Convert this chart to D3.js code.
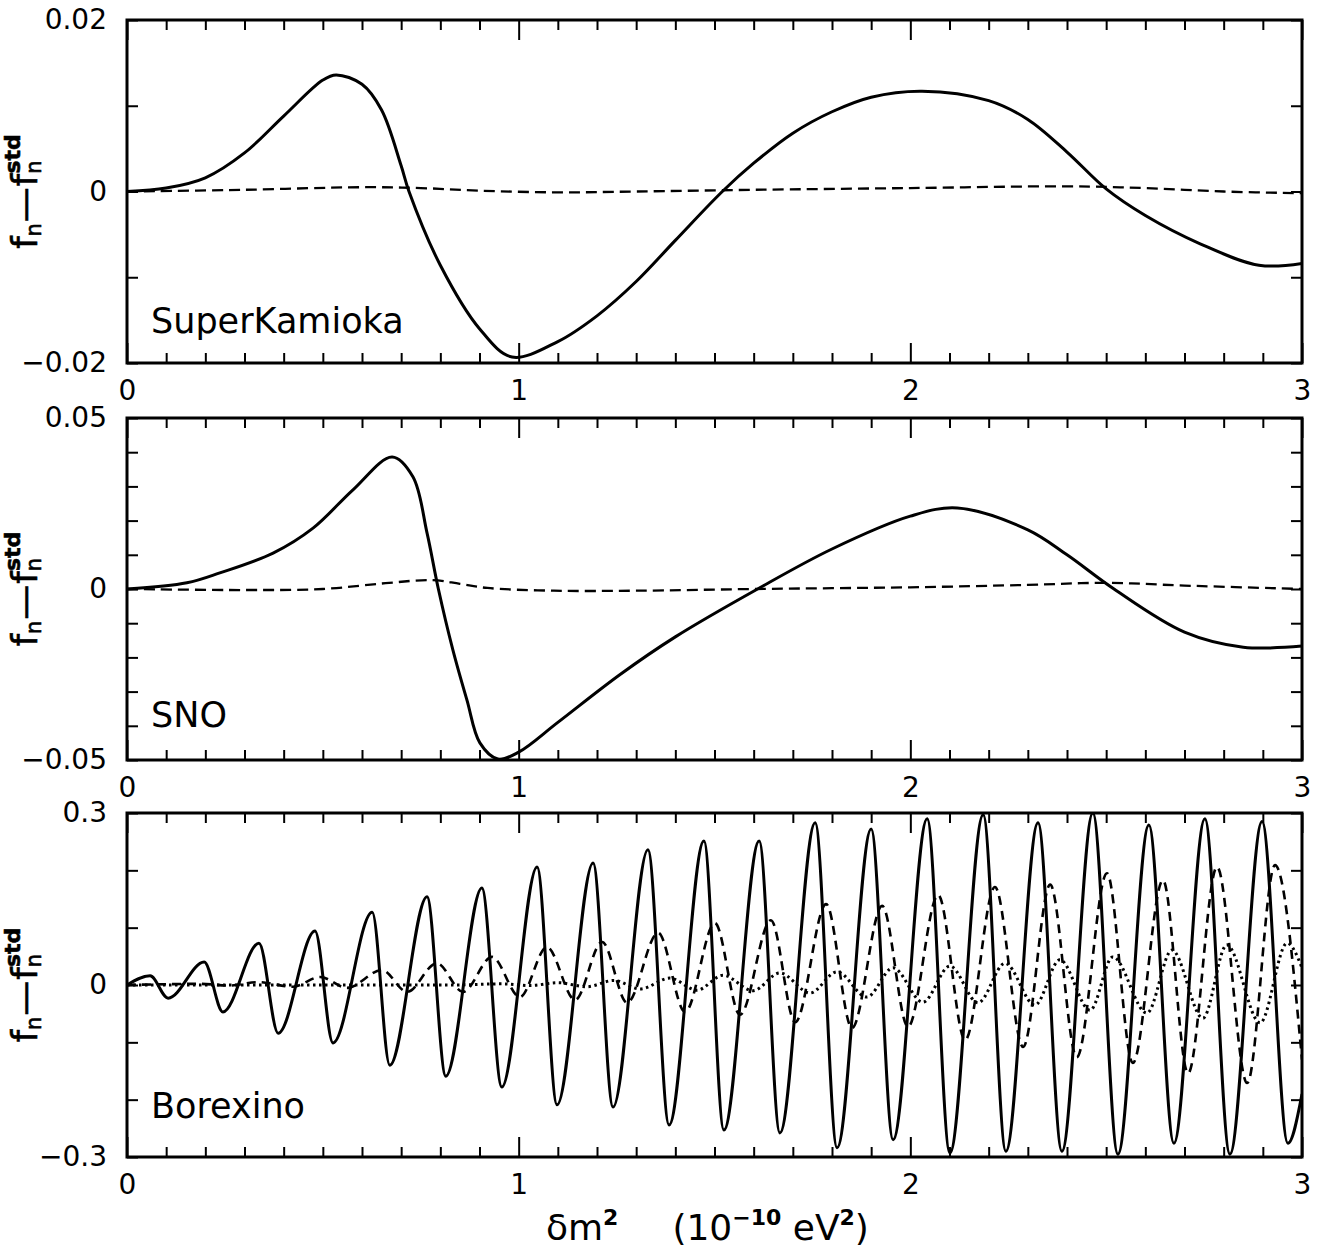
<!DOCTYPE html>
<html><head><meta charset="utf-8">
<script src="https://cdn.jsdelivr.net/npm/d3@7/dist/d3.min.js"></script>
<style>body{margin:0;background:#fff}svg{display:block}</style>
</head><body><svg id="c" width="1322" height="1250"></svg>
<script>
// ---------- data ----------
const xLabelValues = [0, 1, 2, 3];
const panelNames = ["SuperKamioka", "SNO", "Borexino"];
const yDomains = [[-0.02, 0.02], [-0.05, 0.05], [-0.3, 0.3]];
const yLabelValues = [[-0.02, 0, 0.02], [-0.05, 0, 0.05], [-0.3, 0, 0.3]];
const yTickSteps = [0.01, 0.01, 0.1];

// SuperKamioka
const skSolid = [[0,0],[0.1,0.0004],[0.2,0.0016],[0.3,0.0045],[0.4,0.0088],[0.5,0.0130],[0.534,0.0136],
  [0.6,0.0125],[0.65,0.0095],[0.7,0.0030],[0.72,0.0],[0.8,-0.0086],[0.9,-0.0160],[0.983,-0.0193],
  [1.1,-0.0175],[1.2,-0.0145],[1.3,-0.0105],[1.4,-0.0057],[1.52,0.0],[1.6,0.0033],[1.7,0.0068],
  [1.8,0.0093],[1.9,0.0110],[2.03,0.0117],[2.2,0.0106],[2.3,0.0084],[2.4,0.0046],[2.5,0.0003],
  [2.6,-0.0028],[2.74,-0.0061],[2.89,-0.0086],[3.0,-0.0084]];
const skDashed = [[0,0],[0.3,0.0002],[0.6,0.0005],[0.75,0.0004],[0.9,0.0001],[1.1,-0.0001],[1.3,0.0],
  [1.6,0.0002],[2.0,0.0004],[2.4,0.0006],[2.6,0.0004],[2.8,0.0],[3.0,-0.0002]];

// SNO
const snoSolid = [[0,0],[0.153,0.0018],[0.237,0.0047],[0.373,0.0105],[0.475,0.0178],[0.577,0.029],
  [0.677,0.0386],[0.73,0.0328],[0.766,0.0164],[0.795,0],[0.832,-0.0178],[0.868,-0.0325],[0.901,-0.045],
  [0.947,-0.0497],[1.0,-0.0477],[1.1,-0.039],[1.259,-0.025],[1.4,-0.014],[1.61,0],[1.8,0.0117],
  [2.0,0.0213],[2.12,0.0237],[2.3,0.0173],[2.4,0.010],[2.52,0],[2.7,-0.0126],[2.85,-0.017],[3.0,-0.0167]];
const snoDashed = [[0,0],[0.3,-0.0003],[0.5,0.0],[0.66,0.0017],[0.78,0.0026],[0.85,0.0015],[0.92,0.0003],
  [1.09,-0.0005],[1.3,-0.0005],[1.6,0.0],[2.0,0.0005],[2.3,0.0012],[2.5,0.0018],[2.7,0.001],[3.0,0.0]];

// Borexino solid: extrema
const bxSolidStart = [[0,0]];
const bxSolidPeakX = [0.059,0.197,0.337,0.480,0.626,0.766,0.906,1.047,1.190,1.330,1.473,1.614,1.757,1.900,2.043,2.186,2.326,2.466,2.609,2.752,2.898];
const bxSolidPeakY = [0.016,0.040,0.073,0.094,0.127,0.154,0.169,0.206,0.213,0.236,0.251,0.251,0.283,0.272,0.290,0.297,0.283,0.300,0.279,0.290,0.285];
const bxSolidTroughX = [0.105,0.245,0.386,0.526,0.671,0.814,0.957,1.098,1.241,1.384,1.524,1.667,1.813,1.956,2.101,2.244,2.387,2.530,2.673,2.816,2.964];
const bxSolidTroughY = [-0.023,-0.047,-0.084,-0.101,-0.140,-0.159,-0.178,-0.209,-0.213,-0.244,-0.253,-0.258,-0.284,-0.270,-0.293,-0.290,-0.290,-0.295,-0.276,-0.295,-0.276];
const bxSolidEnd = [[3.0,-0.19]];

// Borexino dashed
const bxDashedStart = [[0,0],[0.19,0.002],[0.26,-0.001]];
const bxDashedPeakX = [0.334,0.493,0.651,0.791,0.932,1.072,1.213,1.356,1.501,1.644,1.785,1.928,2.071,2.216,2.357,2.502,2.645,2.783,2.931];
const bxDashedPeakY = [0.005,0.014,0.026,0.038,0.049,0.066,0.075,0.091,0.108,0.113,0.141,0.138,0.157,0.171,0.175,0.195,0.183,0.206,0.209];
const bxDashedTroughX = [0.424,0.562,0.715,0.858,1.003,1.144,1.277,1.425,1.565,1.706,1.851,1.994,2.140,2.288,2.425,2.568,2.709,2.860];
const bxDashedTroughY = [-0.003,-0.005,-0.012,-0.012,-0.021,-0.026,-0.031,-0.047,-0.052,-0.065,-0.075,-0.073,-0.096,-0.108,-0.126,-0.136,-0.154,-0.171];
const bxDashedEnd = [[3.0,-0.13]];

// Borexino dotted
const bxDottedStart = [[0,0],[0.6,0.0],[0.83,0.0]];
const bxDottedPeakX = [0.96,1.10,1.243,1.386,1.522,1.667,1.813,1.956,2.101,2.242,2.382,2.517,2.668,2.808,2.962];
const bxDottedPeakY = [0.002,0.004,0.008,0.012,0.017,0.021,0.023,0.030,0.033,0.038,0.044,0.049,0.061,0.070,0.073];
const bxDottedTroughX = [1.03,1.174,1.310,1.455,1.598,1.744,1.889,2.032,2.173,2.318,2.459,2.604,2.747,2.893];
const bxDottedTroughY = [-0.001,-0.003,-0.007,-0.009,-0.010,-0.014,-0.021,-0.030,-0.031,-0.035,-0.044,-0.049,-0.058,-0.066];
const bxDottedEnd = [[3.0,0.03]];

// ---------- build ----------
function build(start, px, py, tx, ty, end) {
  const pts = start.slice();
  px.forEach((x, i) => pts.push([x, py[i]]));
  tx.forEach((x, i) => pts.push([x, ty[i]]));
  end.forEach(p => pts.push(p));
  return pts.sort((a, b) => a[0] - b[0]);
}
const bxSolid = build(bxSolidStart, bxSolidPeakX, bxSolidPeakY, bxSolidTroughX, bxSolidTroughY, bxSolidEnd);
const bxDashed = build(bxDashedStart, bxDashedPeakX, bxDashedPeakY, bxDashedTroughX, bxDashedTroughY, bxDashedEnd);
const bxDotted = build(bxDottedStart, bxDottedPeakX, bxDottedPeakY, bxDottedTroughX, bxDottedTroughY, bxDottedEnd);

const smooth = d3.curveCatmullRom.alpha(0.5);
const osc = d3.curveMonotoneX;
const series = [
  [{d: skSolid, style: "solid", c: smooth}, {d: skDashed, style: "dashed", c: smooth}],
  [{d: snoSolid, style: "solid", c: smooth}, {d: snoDashed, style: "dashed", c: smooth}],
  [{d: bxSolid, style: "solid", c: osc}, {d: bxDashed, style: "dashed2", c: osc}, {d: bxDotted, style: "dotted", c: osc}]
];

const FONT = "DejaVu Sans, Liberation Sans, Arial, sans-serif";
const svg = d3.select("#c");
svg.append("rect").attr("width", 1322).attr("height", 1250).attr("fill", "#fff");

const left = 127, right = 1302;
const tops = [20, 418, 813], bottoms = [363, 760, 1157];
const labelBaselines = [333, 727, 1118];

const x = d3.scaleLinear().domain([0, 3]).range([left, right]);
const minorX = d3.range(0, 31).map(i => i / 10).filter(v => Math.abs(v - Math.round(v)) > 1e-9);
const fmtY = v => v === 0 ? "0" : (v < 0 ? "\u22120" : "0") + String(Math.abs(v)).slice(1);

const styles = {
  solid:  {w: 3, dash: null},
  dashed: {w: 2.3, dash: "11,6"},
  dashed2:{w: 2.6, dash: "9,6"},
  dotted: {w: 3, dash: "2.5,3.5"}
};

panelNames.forEach((name, p) => {
  const y = d3.scaleLinear().domain(yDomains[p]).range([bottoms[p], tops[p]]);
  const g = svg.append("g");
  const step = yTickSteps[p];
  const n = Math.round((yDomains[p][1] - yDomains[p][0]) / step);
  const yTicks = d3.range(0, n + 1).map(i => +(yDomains[p][0] + i * step).toFixed(4));

  const cid = "clip" + p;
  svg.append("clipPath").attr("id", cid).append("rect")
    .attr("x", left).attr("y", tops[p]).attr("width", right - left).attr("height", bottoms[p] - tops[p]);

  const cg = g.append("g").attr("clip-path", `url(#${cid})`);
  series[p].forEach(s => {
    const st = styles[s.style];
    const line = d3.line().x(d => x(d[0])).y(d => y(d[1])).curve(s.c);
    cg.append("path").attr("d", line(s.d)).attr("fill", "none").attr("stroke", "#000")
      .attr("stroke-width", st.w).attr("stroke-linejoin", "round")
      .attr("stroke-dasharray", st.dash);
  });

  const bottomMinor = d3.axisBottom(x).tickValues(minorX).tickSize(-10).tickFormat("");
  const bottomMajor = d3.axisBottom(x).tickValues(xLabelValues).tickSize(-20).tickPadding(17).tickFormat(d3.format("d"));
  const topMinor = d3.axisTop(x).tickValues(minorX).tickSize(-10).tickFormat("");
  const topMajor = d3.axisTop(x).tickValues(xLabelValues).tickSize(-20).tickFormat("");
  const leftAx = d3.axisLeft(y).tickValues(yTicks).tickSize(-11).tickFormat("");
  const rightAx = d3.axisRight(y).tickValues(yTicks).tickSize(-11).tickFormat("");
  const leftLab = d3.axisLeft(y).tickValues(yLabelValues[p]).tickSize(0).tickPadding(20).tickFormat(fmtY);

  const addAxis = (ax, tx, ty) => {
    const a = g.append("g").attr("transform", `translate(${tx},${ty})`).call(ax);
    a.select(".domain").remove();
    a.selectAll("line").attr("stroke", "#000").attr("stroke-width", 2);
    a.selectAll("text").attr("font-family", FONT).attr("font-size", 28).attr("fill", "#000");
    return a;
  };
  addAxis(bottomMinor, 0, bottoms[p]);
  addAxis(bottomMajor, 0, bottoms[p]);
  addAxis(topMinor, 0, tops[p]);
  addAxis(topMajor, 0, tops[p]);
  addAxis(leftAx, left, 0);
  addAxis(rightAx, right, 0);
  addAxis(leftLab, left, 0);

  g.append("rect").attr("x", left).attr("y", tops[p]).attr("width", right - left)
    .attr("height", bottoms[p] - tops[p]).attr("fill", "none").attr("stroke", "#000").attr("stroke-width", 3);

  g.append("text").attr("x", 151).attr("y", labelBaselines[p]).attr("font-family", FONT)
    .attr("font-size", 35).attr("fill", "#000").text(name);

  // y-axis title f_n - f_n^std
  const cy = (tops[p] + bottoms[p]) / 2;
  const t = g.append("text").attr("transform", `translate(37,${cy}) rotate(-90)`)
    .attr("text-anchor", "middle").attr("font-family", FONT).attr("fill", "#000")
    .attr("stroke", "#000").attr("stroke-width", 0.6);
  t.append("tspan").attr("font-size", 35).text("f");
  t.append("tspan").attr("font-size", 21).attr("dy", 4).text("n");
  t.append("tspan").attr("font-size", 35).attr("dy", -4).attr("dx", 1).text("\u2014");
  t.append("tspan").attr("font-size", 35).attr("dx", 1).text("f");
  t.append("tspan").attr("font-size", 21).attr("dy", 4).text("n");
  t.append("tspan").attr("font-size", 22).attr("font-weight", "bold").attr("dx", -13).attr("dy", -21).text("std");
});

// x-axis title
const xt = svg.append("text").attr("x", 546).attr("y", 1240).attr("font-family", FONT).attr("fill", "#000");
xt.append("tspan").attr("font-size", 36).text("\u03b4m");
xt.append("tspan").attr("font-size", 22).attr("font-weight", "bold").attr("dy", -15).text("2");
xt.append("tspan").attr("font-size", 36).attr("dy", 15).attr("dx", 54).text("(10");
xt.append("tspan").attr("font-size", 22).attr("font-weight", "bold").attr("dy", -15).text("\u221210");
xt.append("tspan").attr("font-size", 36).attr("dy", 15).text(" eV");
xt.append("tspan").attr("font-size", 22).attr("font-weight", "bold").attr("dy", -15).text("2");
xt.append("tspan").attr("font-size", 36).attr("dy", 15).text(")");
</script>
</body></html>
